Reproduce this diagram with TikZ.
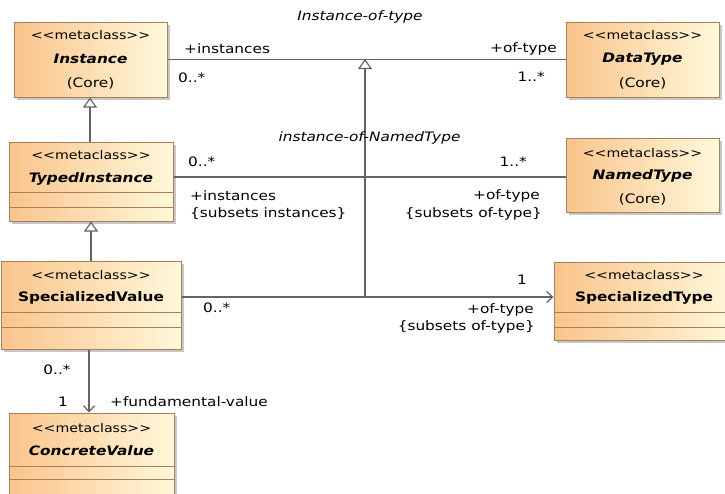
\documentclass[tikz,border=0pt]{standalone}
\usepackage{fontspec}
\setmainfont{DejaVu Sans}[FakeStretch=1.18]
\usetikzlibrary{arrows.meta,shadows}
\definecolor{clsL}{RGB}{250,196,140}
\definecolor{clsR}{RGB}{255,248,218}
\definecolor{clsB}{RGB}{168,128,88}
\definecolor{lnC}{RGB}{100,100,100}
\newcommand{\mcstereo}{<{}<metaclass>{}>}
\tikzset{
  cls/.style={draw=clsB, line width=1pt, left color=clsL, right color=clsR, inner sep=0pt,
    drop shadow={shadow xshift=3pt, shadow yshift=-3pt, fill=black!22, opacity=1}},
  sepline/.style={draw=clsB, line width=1pt},
  stereo/.style={inner sep=0pt, font=\fontsize{12}{14}\selectfont},
  clsname/.style={inner sep=0pt, font=\fontsize{13}{15}\selectfont\bfseries\itshape},
  clsplain/.style={inner sep=0pt, font=\fontsize{13}{15}\selectfont\bfseries},
  lbl/.style={inner sep=0pt, font=\fontsize{13}{15}\selectfont},
  ilbl/.style={inner sep=0pt, font=\fontsize{13}{15}\selectfont\itshape},
  assoc/.style={draw=lnC, line width=1.2pt},
  navig/.style={draw=lnC, line width=1.2pt, -{Straight Barb[length=6pt,width=11pt,line width=1.2pt]}},
  gen/.style={draw=lnC, line width=1.2pt, -{Triangle[open,length=10pt,width=14pt,fill=white]}}
}
\begin{document}
\begin{tikzpicture}[x=1pt,y=-1pt]
\useasboundingbox (0,0) rectangle (725,493);
\clip (0,0) rectangle (725,493);
\fill[white] (0,0) rectangle (725,493);

% class boxes
\node[cls, minimum width=153pt, minimum height=75pt] (inst) at (90.5,59.5) {};
\node[cls, minimum width=153pt, minimum height=75pt] (dt) at (642.5,59.5) {};
\node[cls, minimum width=164pt, minimum height=79pt] (ti) at (91,181.5) {};
\node[cls, minimum width=153pt, minimum height=74pt] (nt) at (642.5,175) {};
\node[cls, minimum width=180pt, minimum height=88pt] (sv) at (91,305) {};
\node[cls, minimum width=180pt, minimum height=78pt] (st) at (644,301) {};
\node[cls, minimum width=165pt, minimum height=92pt] (cv) at (91.5,459) {};

% compartments
\draw[sepline] (9,192) -- (173,192);
\draw[sepline] (9,207) -- (173,207);
\draw[sepline] (1,312) -- (181,312);
\draw[sepline] (1,327) -- (181,327);
\draw[sepline] (554,312) -- (734,312);
\draw[sepline] (554,327) -- (734,327);
\draw[sepline] (9,466) -- (174,466);
\draw[sepline] (9,479) -- (174,479);

% class texts
\node[stereo] (instS) at (90.5,35) {\mcstereo};
\node[clsname] (instN) at (90.5,59) {Instance};
\node[lbl] (instC) at (90.5,83) {(Core)};
\node[stereo] (dtS) at (642.5,35) {\mcstereo};
\node[clsname] (dtN) at (642.5,59) {DataType};
\node[lbl] (dtC) at (642.5,83) {(Core)};
\node[stereo] (tiS) at (91,155) {\mcstereo};
\node[clsname] (tiN) at (91,179) {TypedInstance};
\node[stereo] (ntS) at (642.5,153) {\mcstereo};
\node[clsname] (ntN) at (642.5,176) {NamedType};
\node[lbl] (ntC) at (642.5,199) {(Core)};
\node[stereo] (svS) at (91,275) {\mcstereo};
\node[clsplain] (svN) at (91,298) {SpecializedValue};
\node[stereo] (stS) at (644,275) {\mcstereo};
\node[clsplain] (stN) at (644,298) {SpecializedType};
\node[stereo] (cvS) at (91.5,428) {\mcstereo};
\node[clsname] (cvN) at (91.5,451) {ConcreteValue};

% connection points
\coordinate (j1) at (365,59);
\coordinate (j2) at (365,297);

% associations
\draw[assoc] (inst.east) -- (dt.west);
\draw[assoc] (ti.east |- 0,177) -- (nt.west |- 0,177);
\draw[navig] (sv.east |- j2) -- (st.west |- j2);
\draw[gen] (j2) -- (j1);
\draw[navig] (sv.south -| 89,0) -- (cv.north -| 89,0);

% generalizations
\draw[gen] (ti.north -| 90,0) -- (inst.south -| 90,0);
\draw[gen] (sv.north -| 91,0) -- (ti.south -| 91,0);

% labels
\node[ilbl] (l1) at (360,17) {Instance-of-type};
\node[ilbl] (l2) at (369.5,138) {instance-of-NamedType};
\node[lbl, anchor=west] (l3) at (184,49) {+instances};
\node[lbl, anchor=west] (l4) at (178,78) {0..*};
\node[lbl, anchor=east] (l5) at (557,49) {+of-type};
\node[lbl, anchor=east] (l6) at (545,77) {1..*};
\node[lbl, anchor=west] (l7) at (188,162) {0..*};
\node[lbl, anchor=west] (l8) at (190,196) {+instances};
\node[lbl, anchor=west] (l9) at (190,214) {\{subsets instances\}};
\node[lbl, anchor=east] (l10) at (527,162) {1..*};
\node[lbl, anchor=east] (l11) at (540,196) {+of-type};
\node[lbl, anchor=east] (l12) at (542,214) {\{subsets of-type\}};
\node[lbl, anchor=west] (l13) at (203,308) {0..*};
\node[lbl] (l14) at (522,280) {1};
\node[lbl, anchor=east] (l15) at (534,310) {+of-type};
\node[lbl, anchor=east] (l16) at (535,327) {\{subsets of-type\}};
\node[lbl] (l17) at (57,370) {0..*};
\node[lbl] (l18) at (63,402) {1};
\node[lbl, anchor=west] (l19) at (110,402) {+fundamental-value};
\end{tikzpicture}
\end{document}
